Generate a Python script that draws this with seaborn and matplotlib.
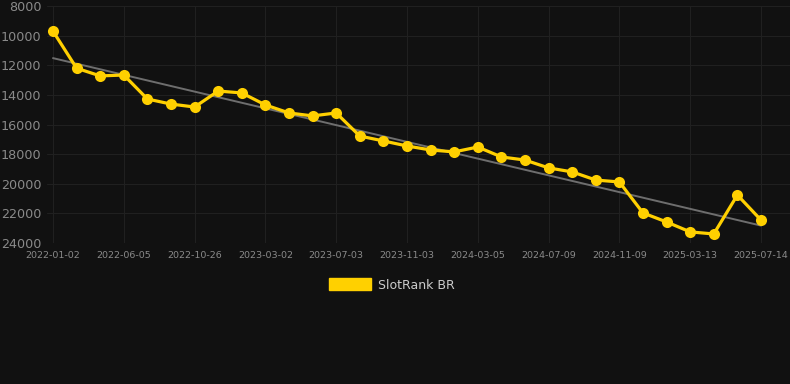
import numpy as np
import pandas as pd
import matplotlib
matplotlib.use('Agg')
import matplotlib.pyplot as plt
import seaborn as sns
from matplotlib.patches import Patch

# rank values (lower on axis = worse rank)
ranks = [9700, 12200, 12720, 12660, 14280, 14620, 14820, 13740, 13870, 14680,
         15220, 15420, 15220, 16780, 17110, 17450, 17720, 17850, 17520, 18190,
         18400, 18930, 19200, 19750, 19880, 21970, 22580, 23250, 23390, 20760,
         22450]
tick_labels = ["2022-01-02", "2022-06-05", "2022-10-26", "2023-03-02", "2023-07-03",
               "2023-11-03", "2024-03-05", "2024-07-09", "2024-11-09", "2025-03-13",
               "2025-07-14"]
y_ticks = [8000, 10000, 12000, 14000, 16000, 18000, 20000, 22000, 24000]

BG = "#111111"
GOLD = "#FFD000"

df = pd.DataFrame({"pos": np.arange(len(ranks)), "rank": ranks})
slope, intercept = np.polyfit(df["pos"], df["rank"], 1)
df["trend"] = slope * df["pos"] + intercept

sns.set_theme(style="dark")
fig = plt.figure(figsize=(7.9, 3.84), dpi=100, facecolor=BG)
ax = fig.add_axes([47 / 790, 1 - 243 / 384, 1 - 47 / 790, (243 - 6) / 384])
ax.set_facecolor(BG)

sns.lineplot(data=df, x="pos", y="trend", ax=ax, color="#6e6e6e", linewidth=1.4)
sns.lineplot(data=df, x="pos", y="rank", ax=ax, color=GOLD, linewidth=2.3,
             marker="o", markersize=8, markeredgewidth=0, zorder=3)

ax.set_ylim(24000, 8000)
ax.set_yticks(y_ticks)
ax.set_yticklabels([str(v) for v in y_ticks])
ax.set_xlim(-0.254, 31.23)
ax.set_xticks(np.arange(0, len(ranks), 3))
ax.set_xticklabels(tick_labels)

ax.grid(True, color="#202020", linewidth=0.8)
for s in ax.spines.values():
    s.set_visible(False)
ax.tick_params(axis="y", colors="#8a8a8a", labelsize=9.2, length=0, pad=4)
ax.tick_params(axis="x", colors="#8a8a8a", labelsize=6.8, length=0, pad=6)
ax.set_xlabel("")
ax.set_ylabel("")

fig.legend(handles=[Patch(facecolor=GOLD, edgecolor=GOLD, label="SlotRank BR")],
           loc="center", bbox_to_anchor=(392 / 790, 1 - 285 / 384), frameon=False,
           handlelength=3.3, handleheight=1.1, handletextpad=0.6, fontsize=9,
           labelcolor="#cccccc")

fig.savefig("out.png", dpi=100, facecolor=BG)
